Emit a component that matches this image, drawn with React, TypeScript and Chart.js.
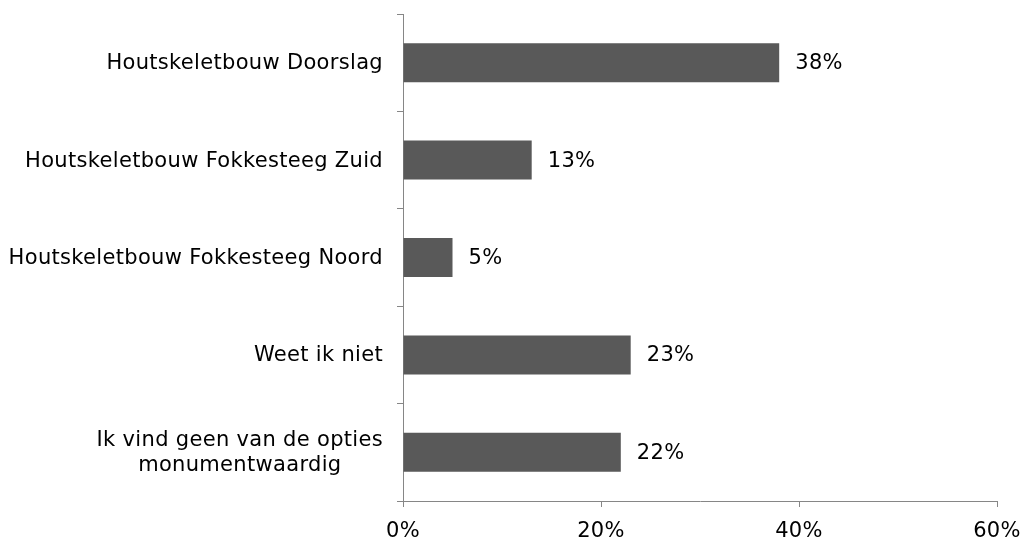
import React, { useEffect, useRef } from "react";
import { Chart, registerables } from "chart.js";

Chart.register(...registerables);

const categories: string[][] = [
  ["Houtskeletbouw Doorslag"],
  ["Houtskeletbouw Fokkesteeg Zuid"],
  ["Houtskeletbouw Fokkesteeg Noord"],
  ["Weet ik niet"],
  ["Ik vind geen van de opties", "monumentwaardig"],
];
const values: number[] = [38, 13, 5, 23, 22];
const xTicks: number[] = [0, 20, 40, 60];

const FONT_FAMILY = "'DejaVu Sans', Verdana, sans-serif";
const FONT_SIZE = 21;
const LETTER_SPACING = "0.32px";
const AXIS_COLOR = "#868686";
const BAR_COLOR = "#595959";

const labelsPlugin = {
  id: "customLabels",
  afterDraw(chart: any) {
    const ctx = chart.ctx;
    const yScale = chart.scales.y;
    const xScale = chart.scales.x;
    ctx.save();
    ctx.font = `${FONT_SIZE}px ${FONT_FAMILY}`;
    (ctx as any).letterSpacing = LETTER_SPACING;
    ctx.fillStyle = "#000000";
    ctx.textBaseline = "middle";
    ctx.textAlign = "center";
    const rightEdge = chart.chartArea.left - 20;
    const lineHeight = 25;
    categories.forEach((lines, i) => {
      const y = yScale.getPixelForValue(i) + 1;
      const maxW = Math.max(...lines.map((l) => ctx.measureText(l).width));
      const cx = rightEdge - maxW / 2;
      const startY = y - ((lines.length - 1) * lineHeight) / 2;
      lines.forEach((l, j) => ctx.fillText(l, cx, startY + j * lineHeight));
    });
    // value labels
    const meta = chart.getDatasetMeta(0);
    ctx.textAlign = "left";
    meta.data.forEach((bar: any, i: number) => {
      ctx.fillText(`${values[i]}%`, bar.x + 16, bar.y + 1);
    });
    // x tick labels
    ctx.textAlign = "center";
    ctx.textBaseline = "alphabetic";
    xTicks.forEach((v) => {
      ctx.fillText(`${v}%`, xScale.getPixelForValue(v), chart.chartArea.bottom + 36);
    });
    ctx.restore();
  },
};

export default function App() {
  const ref = useRef<HTMLCanvasElement | null>(null);
  useEffect(() => {
    document.body.style.margin = "0";
    const chart = new Chart(ref.current as HTMLCanvasElement, {
      type: "bar",
      data: {
        labels: categories.map((c) => c.join(" ")),
        datasets: [
          {
            data: values,
            backgroundColor: BAR_COLOR,
            borderWidth: 0,
            categoryPercentage: 1,
            barPercentage: 0.4,
          },
        ],
      },
      options: {
        indexAxis: "y",
        responsive: false,
        animation: false,
        maintainAspectRatio: false,
        layout: { padding: { top: 14, right: 32, left: 0, bottom: 0 } },
        plugins: {
          legend: { display: false },
          tooltip: { enabled: false },
        },
        scales: {
          x: {
            min: 0,
            max: 60,
            afterBuildTicks: (scale: any) => {
              scale.ticks = xTicks.map((v) => ({ value: v }));
            },
            afterFit: (scale: any) => {
              scale.height = 38;
            },
            border: { display: true, color: AXIS_COLOR, width: 1 },
            grid: {
              drawOnChartArea: false,
              drawTicks: true,
              tickLength: 6,
              color: AXIS_COLOR,
            },
            ticks: { display: false },
          },
          y: {
            afterFit: (scale: any) => {
              scale.width = 403;
            },
            border: { display: true, color: AXIS_COLOR, width: 1 },
            grid: {
              offset: true,
              drawOnChartArea: false,
              drawTicks: true,
              tickLength: 6,
              color: AXIS_COLOR,
            },
            ticks: { display: false },
          },
        },
      },
      plugins: [labelsPlugin],
    });
    return () => chart.destroy();
  }, []);
  return <canvas ref={ref} width={1029} height={539} style={{ display: "block" }} />;
}
